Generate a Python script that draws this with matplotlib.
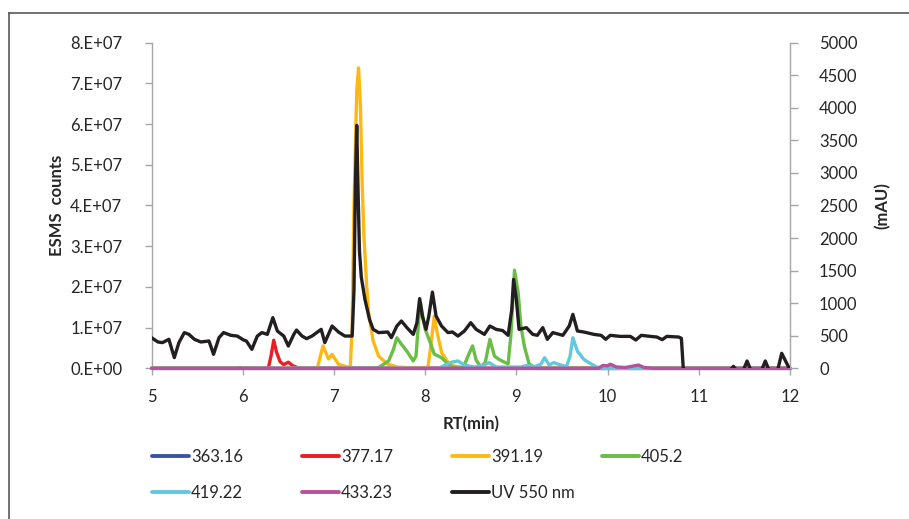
import matplotlib.pyplot as plt
from matplotlib.lines import Line2D
import numpy as np

plt.rcParams['font.family'] = ['Lato', 'DejaVu Sans']

# -------------------------
# Data
# -------------------------
# MS traces (ESMS counts), each with its own retention-time points
t_363 = [5.0, 12.0]
v_363 = [0, 0]

t_377 = [5.0, 5.93, 5.97, 6.0, 6.28, 6.31, 6.34, 6.37, 6.41, 6.45, 6.50, 6.55, 6.62, 12.0]
v_377 = [0, 0, 0.2e6, 0, 0, 3.0e6, 6.9e6, 4.0e6, 1.6e6, 0.9e6, 1.5e6, 0.6e6, 0, 0]

t_391 = [5.0, 6.78, 6.82, 6.88, 6.94, 6.98, 7.05, 7.15, 7.18, 7.20, 7.22, 7.25, 7.27,
         7.29, 7.31, 7.33, 7.36, 7.38, 7.43, 7.49, 7.59, 7.70, 7.85, 8.03, 8.06,
         8.10, 8.13, 8.18, 8.25, 8.32, 8.45, 12.0]
v_391 = [0, 0, 0.2e6, 5.5e6, 2.3e6, 3.4e6, 1.0e6, 0.3e6, 0.5e6, 1.0e7, 4.0e7, 6.8e7, 7.38e7,
         6.5e7, 4.5e7, 3.2e7, 2.0e7, 1.37e7, 6.7e6, 3.0e6, 1.0e6, 0.3e6, 0.1e6, 0.2e6, 5.0e6,
         1.28e7, 9.0e6, 3.9e6, 1.5e6, 0.5e6, 0, 0]

t_405 = [5.0, 7.40, 7.49, 7.60, 7.65, 7.69, 7.74, 7.80, 7.87, 7.90, 7.93, 7.95, 7.98,
         8.00, 8.05, 8.10, 8.18, 8.25, 8.30, 8.42, 8.47, 8.52, 8.56, 8.61, 8.66, 8.71,
         8.76, 8.81, 8.86, 8.91, 8.94, 8.98, 9.02, 9.05, 9.09, 9.14, 9.20, 9.30, 12.0]
v_405 = [0, 0, 0.2e6, 1.8e6, 4.5e6, 7.5e6, 5.9e6, 4.2e6, 1.8e6, 3.0e6, 1.2e7, 1.6e7, 1.2e7,
         9.6e6, 6.7e6, 3.5e6, 2.6e6, 1.0e6, 0.3e6, 0.2e6, 3.0e6, 5.5e6, 2.0e6, 0.3e6, 1.5e6, 7.1e6,
         3.0e6, 2.2e6, 1.6e6, 1.1e6, 8.0e6, 2.41e7, 1.86e7, 1.04e7, 5.2e6, 1.1e6, 0.2e6, 0, 0]

t_419 = [5.0, 8.15, 8.22, 8.29, 8.36, 8.43, 8.54, 8.65, 8.70, 8.78, 9.05, 9.12, 9.20,
         9.27, 9.31, 9.36, 9.41, 9.46, 9.55, 9.59, 9.62, 9.67, 9.74, 9.81, 9.88, 9.98, 12.0]
v_419 = [0, 0, 0.8e6, 1.5e6, 1.8e6, 0.8e6, 0.3e6, 0.8e6, 1.4e6, 0.3e6, 0.3e6, 0.7e6, 0.4e6,
         1.0e6, 2.6e6, 0.8e6, 1.4e6, 1.0e6, 0.4e6, 3.0e6, 7.5e6, 4.2e6, 2.2e6, 1.2e6, 0.3e6, 0, 0]

t_433 = [5.0, 9.90, 9.95, 10.0, 10.03, 10.10, 10.20, 10.27, 10.34, 10.40, 10.50, 12.0]
v_433 = [0, 0, 0.7e6, 0.6e6, 1.0e6, 0.3e6, 0.2e6, 0.5e6, 0.8e6, 0.2e6, 0, 0]

# UV trace (mAU, right axis); after 10.8 min it sits just below the axis
t_uv = [5.00, 5.07, 5.12, 5.19, 5.25, 5.30, 5.36, 5.41, 5.47, 5.54, 5.63, 5.68, 5.74,
        5.79, 5.87, 5.94, 6.01, 6.04, 6.10, 6.16, 6.21, 6.27, 6.33, 6.38, 6.45, 6.50,
        6.56, 6.59, 6.65, 6.70, 6.76, 6.86, 6.90, 6.98, 7.05, 7.12, 7.20, 7.22, 7.235,
        7.25, 7.265, 7.28, 7.30, 7.34, 7.39, 7.43, 7.49, 7.59, 7.63, 7.69, 7.74, 7.80,
        7.87, 7.91, 7.94, 7.97, 8.01, 8.04, 8.08, 8.12, 8.18, 8.25, 8.30, 8.36, 8.43,
        8.50, 8.56, 8.65, 8.71, 8.78, 8.85, 8.91, 8.95, 8.97, 9.00, 9.03, 9.11, 9.18,
        9.23, 9.29, 9.34, 9.40, 9.51, 9.58, 9.62, 9.67, 9.74, 9.85, 9.93, 9.98, 10.03,
        10.14, 10.25, 10.31, 10.37, 10.47, 10.54, 10.60, 10.65, 10.78, 10.81, 10.83,
        10.86, 11.33, 11.38, 11.43, 11.48, 11.53, 11.58, 11.68, 11.73, 11.78, 11.86,
        11.91, 11.96, 12.00]
v_uv = [470, 404, 394, 445, 164, 394, 548, 521, 445, 404, 419, 215, 471,
        548, 506, 495, 434, 419, 291, 495, 548, 521, 777, 572, 495, 342,
        521, 587, 495, 455, 495, 598, 394, 649, 557, 495, 495, 1200, 2800,
        3730, 2700, 1800, 1400, 1058, 751, 598, 548, 557, 471, 649, 726, 624,
        521, 700, 1070, 800, 598, 800, 1170, 802, 649, 548, 557, 495, 572,
        700, 597, 521, 649, 597, 580, 506, 900, 1365, 1058, 598, 624, 521,
        506, 624, 445, 548, 506, 649, 828, 572, 557, 521, 506, 445, 506,
        490, 490, 434, 506, 490, 480, 440, 490, 480, 460, 10,
        -60, -60, 30, -60, -60, 112, -60, -60, 112, -60, -60,
        230, 90, -20]

ms_series = [
    ("363.16", t_363, v_363, "#3A53A4"),
    ("377.17", t_377, v_377, "#ED1C24"),
    ("391.19", t_391, v_391, "#FDB913"),
    ("405.2", t_405, v_405, "#6ABD45"),
    ("419.22", t_419, v_419, "#63C8DB"),
    ("433.23", t_433, v_433, "#B5529E"),
]
uv_label = "UV 550 nm"
uv_color = "#231F20"

x_ticks = [5, 6, 7, 8, 9, 10, 11, 12]
left_ticks = np.arange(0, 8.01e7, 1e7)
left_ticklabels = ["0.E+00", "1.E+07", "2.E+07", "3.E+07", "4.E+07",
                   "5.E+07", "6.E+07", "7.E+07", "8.E+07"]
right_ticks = np.arange(0, 5001, 500)

# -------------------------
# Figure
# -------------------------
fig = plt.figure(figsize=(9.09, 5.19), dpi=100)
ax = fig.add_axes([0.1667, 0.2904, 0.7023, 0.6273])
ax2 = ax.twinx()

lw = 2.4
handles = {}
for name, t, v, col in ms_series:
    line, = ax.plot(t, v, color=col, lw=lw, solid_joinstyle="round", solid_capstyle="round",
                    clip_on=False, zorder=3)
    handles[name] = line
uv_line, = ax2.plot(t_uv, v_uv, color=uv_color, lw=lw, solid_joinstyle="round",
                    solid_capstyle="round")
handles[uv_label] = uv_line

axis_gray = "#A6A6A6"
text_col = "#262626"
fs = 12

ax.set_xlim(5, 12)
ax.set_ylim(0, 8e7)
ax2.set_ylim(0, 5000)
ax.set_xticks(x_ticks)
ax.set_yticks(left_ticks)
ax.set_yticklabels(left_ticklabels)
ax2.set_yticks(right_ticks)

for a in (ax, ax2):
    for s in a.spines.values():
        s.set_visible(False)
ax.spines["left"].set_visible(True)
ax.spines["bottom"].set_visible(True)
ax2.spines["right"].set_visible(True)
for s in (ax.spines["left"], ax.spines["bottom"], ax2.spines["right"]):
    s.set_color(axis_gray)
    s.set_linewidth(1.0)
    s.set_zorder(1)

ax.tick_params(axis="both", direction="out", length=5, width=1.0, color=axis_gray,
               labelsize=fs, labelcolor=text_col)
ax.tick_params(axis="y", pad=16)
ax.tick_params(axis="x", pad=10)
ax2.tick_params(axis="y", direction="out", length=6, width=1.0, color=axis_gray,
                labelsize=fs, labelcolor=text_col, pad=15)

ax.set_xlabel("RT(min)", fontsize=fs, fontweight="bold", color=text_col, labelpad=8)
ax.set_ylabel("ESMS  counts", fontsize=fs, fontweight="bold", color=text_col, labelpad=4)
ax2.set_ylabel("(mAU)", fontsize=fs, fontweight="bold", color=text_col, labelpad=12)

# Legend: four columns laid out like the spreadsheet legend
legend_cols = [["363.16", "419.22"], ["377.17", "433.23"],
               ["391.19", uv_label], ["405.2"]]
col_x = [152 / 909, 302 / 909, 452 / 909, 602 / 909]
for names, x0 in zip(legend_cols, col_x):
    leg = fig.legend([handles[n] for n in names], names, loc="upper left",
                     bbox_to_anchor=(x0, 1 - 449 / 519), frameon=False,
                     fontsize=fs, handlelength=2.2, handletextpad=0.15,
                     labelspacing=1.2, borderpad=0, borderaxespad=0)
    for txt in leg.get_texts():
        txt.set_color(text_col)
    for ln in leg.get_lines():
        ln.set_linewidth(2.8)

# outer chart frame (left and top edges visible)
frame_col = "#595959"
fig.add_artist(Line2D([8.5 / 909, 8.5 / 909], [0, 1 - 13 / 519], color=frame_col, lw=1.2))
fig.add_artist(Line2D([8.5 / 909, 1], [1 - 13 / 519, 1 - 13 / 519], color=frame_col, lw=1.2))

fig.savefig("out.png", dpi=100)
